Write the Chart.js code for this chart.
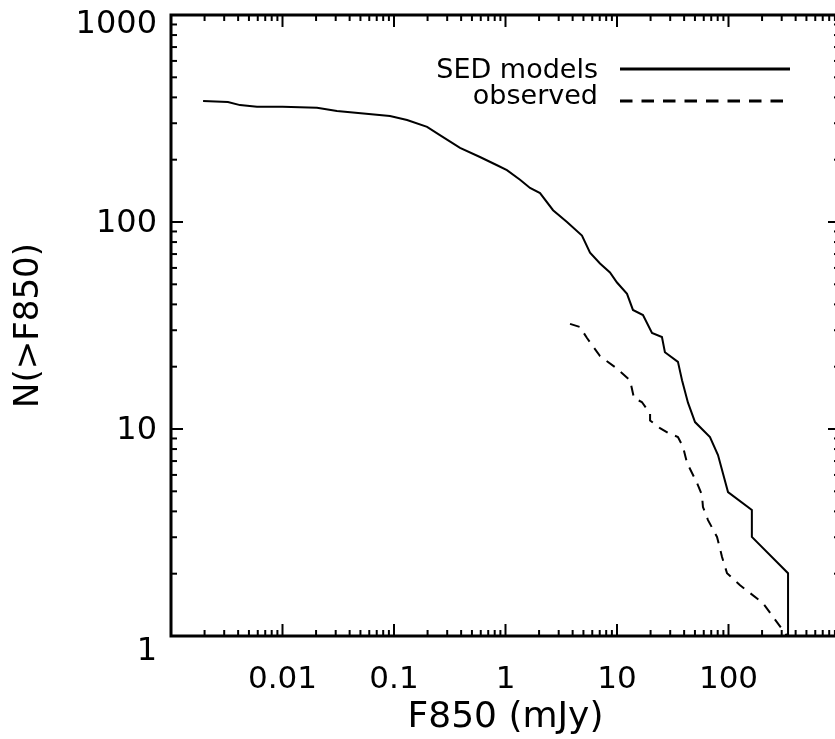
<!DOCTYPE html>
<html>
<head>
<meta charset="utf-8">
<script src="https://cdn.jsdelivr.net/npm/chart.js@4/dist/chart.umd.min.js"></script>
<style>
  html, body { margin: 0; padding: 0; background: #fff; overflow: hidden; }
  #wrap { position: absolute; left: 0; top: 0; width: 845px; height: 739px; }
</style>
</head>
<body>
<div id="wrap"><canvas id="countChart" width="845" height="739"></canvas></div>
<script>
"use strict";

// cumulative counts N(>F850)
const sedFlux  = [0.00194, 0.00324, 0.00416, 0.0059, 0.01, 0.0204, 0.0308, 0.092, 0.131, 0.198, 0.258, 0.391,
                  0.59, 0.84, 1.03, 1.35, 1.66, 2.04, 2.67, 3.56, 4.85, 5.73, 7.04, 8.65, 10.0, 12.3, 13.9,
                  17.1, 20.6, 25.3, 26.9, 35.2, 38.3, 43.3, 50.1, 68.2, 80.5, 99, 162, 162, 342, 342];
const sedCount = [384, 380, 367, 360, 360, 356, 344, 325, 311, 288, 263, 228,
                  206, 188, 178, 160, 146, 138, 114, 100, 86, 71, 63, 57, 51, 45, 37.6,
                  35.5, 29.1, 27.8, 23.5, 21.1, 17.2, 13.4, 10.8, 9.15, 7.48, 4.96, 4.06, 3.01, 2.01, 1];

const obsFlux  = [3.79, 4.66, 5.38, 7.04, 9.6, 13.1, 14.2, 16.7, 19.8, 19.8, 24.3, 28.7, 35.2,
                  39.1, 42.5, 52.2, 57.8, 59.0, 65.5, 78.9, 87.5, 97, 127, 204, 335];
const obsCount = [32.2, 31.1, 27.5, 22.5, 19.9, 17.2, 14.1, 13.5, 11.9, 11.0, 10.1, 9.57, 9.15,
                  8.19, 6.85, 5.48, 4.80, 4.20, 3.63, 3.01, 2.41, 2.01, 1.76, 1.44, 1.0];

const seriesLabels = ['SED models', 'observed'];

const xTickValues = [0.01, 0.1, 1, 10, 100];
const xTickLabels = ['0.01', '0.1', '1', '10', '100'];
const yTickValues = [1, 10, 100, 1000];
const yTickLabels = ['1', '10', '100', '1000'];

const FONT = "'DejaVu Sans', sans-serif";

// IDL style box: thick frame with inward major/minor ticks on all four sides,
// y labels drawn here because IDL nudges the end ones inside the box
const frameTicks = {
    id: 'frameTicks',
    afterDatasetsDraw(chart) {
        const { ctx, chartArea: a, scales: { x, y } } = chart;
        ctx.save();
        ctx.strokeStyle = '#000';
        ctx.lineWidth = 2;
        const seg = (x1, y1, x2, y2) => { ctx.beginPath(); ctx.moveTo(x1, y1); ctx.lineTo(x2, y2); ctx.stroke(); };
        for (let d = -3; d < 3; d++) {
            for (let m = 1; m < 10; m++) {
                const px = x.getPixelForValue(m * Math.pow(10, d));
                const len = m === 1 ? 12 : 6;
                seg(px, a.bottom, px, a.bottom - len);
                seg(px, a.top, px, a.top + len);
            }
        }
        for (let d = 0; d < 3; d++) {
            for (let m = 1; m < 10; m++) {
                const py = y.getPixelForValue(m * Math.pow(10, d));
                const len = m === 1 ? 12 : 6;
                seg(a.left, py, a.left + len, py);
                seg(a.right, py, a.right - len, py);
            }
        }
        ctx.lineWidth = 3;
        ctx.strokeRect(a.left, a.top, a.right - a.left, a.bottom - a.top);

        const nudge = [16, 2, 2, 10];
        ctx.fillStyle = '#000';
        ctx.font = "32px " + FONT;
        ctx.textAlign = 'right';
        ctx.textBaseline = 'middle';
        yTickValues.forEach((v, i) => {
            ctx.fillText(yTickLabels[i], a.left - 14, y.getPixelForValue(v) + nudge[i]);
        });
        ctx.restore();
    }
};

// legend in the upper right: label text, then a line sample
const lineLegend = {
    id: 'lineLegend',
    afterDraw(chart) {
        const ctx = chart.ctx;
        ctx.save();
        ctx.font = "27px " + FONT;
        ctx.fillStyle = '#000';
        ctx.textAlign = 'right';
        ctx.textBaseline = 'alphabetic';
        chart.data.datasets.forEach((ds, i) => {
            const base = 78 + i * 26;
            const ly = 69 + i * 32;
            ctx.fillText(ds.label, 598, base);
            ctx.strokeStyle = ds.borderColor;
            ctx.lineWidth = 3;
            ctx.setLineDash(ds.borderDash && ds.borderDash.length ? [12.5, 9] : []);
            ctx.beginPath();
            ctx.moveTo(620, ly);
            ctx.lineTo(790, ly);
            ctx.stroke();
        });
        ctx.restore();
    }
};

new Chart(document.getElementById('countChart'), {
    type: 'line',
    data: {
        datasets: [
            {
                label: seriesLabels[0],
                data: sedFlux.map((f, i) => ({ x: f, y: sedCount[i] })),
                borderColor: '#000', borderWidth: 2, borderDash: [],
                pointRadius: 0, tension: 0, fill: false
            },
            {
                label: seriesLabels[1],
                data: obsFlux.map((f, i) => ({ x: f, y: obsCount[i] })),
                borderColor: '#000', borderWidth: 2, borderDash: [10, 8],
                pointRadius: 0, tension: 0, fill: false
            }
        ]
    },
    options: {
        responsive: false,
        animation: false,
        layout: { padding: { top: 15, right: 5, left: 0, bottom: 0 } },
        plugins: { legend: { display: false }, tooltip: { enabled: false } },
        scales: {
            x: {
                type: 'logarithmic', min: 0.001, max: 1000, position: 'bottom',
                grid: { display: false, drawTicks: false }, border: { display: false },
                afterBuildTicks: s => { s.ticks = xTickValues.map(v => ({ value: v })); },
                afterFit: s => { s.height = 103; },
                ticks: {
                    autoSkip: false, maxRotation: 0, padding: 25, color: '#000',
                    font: { family: FONT, size: 31 },
                    callback: (v, i) => xTickLabels[i]
                },
                title: {
                    display: true, text: 'F850 (mJy)', color: '#000',
                    font: { family: FONT, size: 36 }, padding: { top: 0, bottom: 0 }
                }
            },
            y: {
                type: 'logarithmic', min: 1, max: 1000, position: 'left',
                grid: { display: false, drawTicks: false }, border: { display: false },
                afterBuildTicks: s => { s.ticks = yTickValues.map(v => ({ value: v })); },
                afterFit: s => { s.width = 171; },
                ticks: { display: false },
                title: {
                    display: true, text: 'N(>F850)', color: '#000',
                    font: { family: FONT, size: 34 }, padding: { top: 9, bottom: 0 }
                }
            }
        }
    },
    plugins: [frameTicks, lineLegend]
});
</script>
</body>
</html>
